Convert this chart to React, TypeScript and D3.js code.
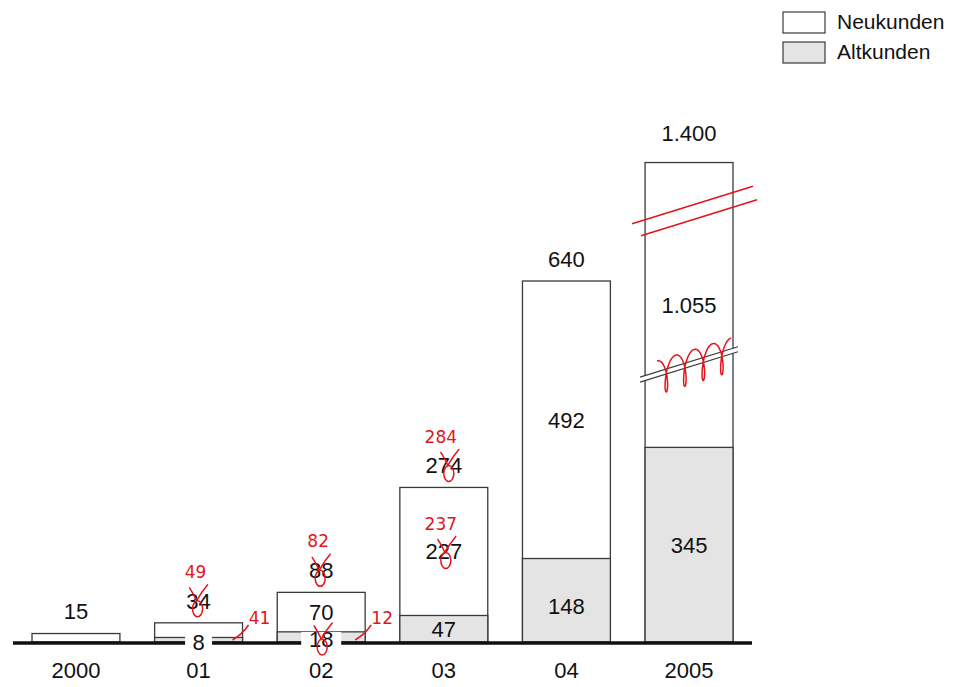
import React from "react";
import * as d3 from "d3";

// Kunden per year (stacked: Altkunden at the bottom, Neukunden on top)
const years = ["2000", "01", "02", "03", "04", "2005"];
const altkunden = [0, 8, 18, 47, 148, 345];
const neukunden = [15, 26, 70, 227, 492, 1055];
const totals = [15, 34, 88, 274, 640, 1400];
// labels printed inside segments (null = none)
const altLabels = [null, "8", "18", "47", "148", "345"];
const neuLabels = [null, null, "70", "227", "492", "1.055"];
const totalLabels = ["15", "34", "88", "274", "640", "1.400"];

// handwritten corrections
const totalFixes = [null, "49", "82", "284", null, null];
const neuFixes = [null, null, null, "237", null, null];
const altFixes = [null, "41", "12", null, null, null];

const legendItems = ["Neukunden", "Altkunden"];

const W = 954;
const H = 687;
const FONT = "'Liberation Sans', Arial, sans-serif";
const RED = "#e3151c";
const GRAY = "#e4e4e4";
const STROKE = "#3a3a3a";

const baseY = 642;
const x = d3.scaleBand<string>().domain(years).range([32, 733]).paddingInner(0.283).paddingOuter(0);
const y = d3.scaleLinear().domain([0, 640]).range([baseY, 281]);
// the last bar is drawn with an axis break above BREAK_AT
const BREAK_AT = 500;
const yBroken = d3.scaleLinear().domain([0, BREAK_AT, 1400]).range([baseY, y(BREAK_AT), y(850)]);
const scaleFor = (i: number) => (i === years.length - 1 ? yBroken : y);

function Correction({ cx, cy }: { cx: number; cy: number }) {
  // strike mark over a digit with a loop beneath
  return (
    <g fill="none" stroke={RED} strokeWidth={1.5} strokeLinecap="round">
      <path d={`M${cx - 7},${cy - 12} Q${cx - 2},${cy - 4} ${cx},${cy + 1} Q${cx + 5},${cy - 8} ${cx + 11},${cy - 15}`} />
      <ellipse cx={cx + 1} cy={cy + 9} rx={5} ry={8} />
    </g>
  );
}

export default function App() {
  const bw = x.bandwidth();
  const last = years.length - 1;
  const lx = x(years[last])!;
  const breakY = y(BREAK_AT);
  const slope = -0.31;

  // loopy scribble over the original break
  const scribble: string[] = [];
  const nLoops = 4;
  const sx0 = lx + 12;
  const span = 74;
  for (let k = 0; k <= 240; k++) {
    const t = Math.PI + (k / 240) * nLoops * 2 * Math.PI;
    const px = sx0 + (span * (t - Math.PI)) / (nLoops * 2 * Math.PI) - 5 * Math.sin(t);
    const py = breakY + 8 + 17 * Math.cos(t) + (px - (lx + bw / 2)) * slope;
    scribble.push(`${k === 0 ? "M" : "L"}${px.toFixed(1)},${py.toFixed(1)}`);
  }

  return (
    <div style={{ position: "absolute", left: 0, top: 0 }}>
      <svg width={W} height={H} style={{ display: "block", background: "#fff" }} fontFamily={FONT}>
        {/* legend */}
        {legendItems.map((name, i) => (
          <g key={name} transform={`translate(783,${12 + i * 30})`}>
            <rect width={42} height={21} fill={i === 0 ? "#fff" : GRAY} stroke={STROKE} strokeWidth={1.2} />
            <text x={54} y={17} fontSize={21} fill="#111">{name}</text>
          </g>
        ))}

        {/* bars */}
        {years.map((yr, i) => {
          const s = scaleFor(i);
          const x0 = x(yr)!;
          const yA = s(altkunden[i]);
          const yT = s(totals[i]);
          return (
            <g key={yr}>
              <rect x={x0} y={yT} width={bw} height={baseY - yT} fill="#fff" stroke={STROKE} strokeWidth={1.3} />
              {altkunden[i] > 0 && (
                <rect x={x0} y={yA} width={bw} height={baseY - yA} fill={GRAY} stroke={STROKE} strokeWidth={1.3} />
              )}
            </g>
          );
        })}

        {/* axis break on the last bar */}
        <g>
          <polygon
            points={`${lx - 5},${breakY + 2 + (-bw / 2 - 5) * slope} ${lx + bw + 5},${breakY + 2 + (bw / 2 + 5) * slope} ${lx + bw + 5},${breakY + 7 + (bw / 2 + 5) * slope} ${lx - 5},${breakY + 7 + (-bw / 2 - 5) * slope}`}
            fill="#fff"
          />
          <line x1={lx - 5} y1={breakY + 2 + (-bw / 2 - 5) * slope} x2={lx + bw + 5} y2={breakY + 2 + (bw / 2 + 5) * slope} stroke={STROKE} strokeWidth={1.1} />
          <line x1={lx - 5} y1={breakY + 7 + (-bw / 2 - 5) * slope} x2={lx + bw + 5} y2={breakY + 7 + (bw / 2 + 5) * slope} stroke={STROKE} strokeWidth={1.1} />
        </g>

        {/* baseline */}
        <line x1={13} x2={752} y1={baseY + 1} y2={baseY + 1} stroke="#111" strokeWidth={3.5} />

        {/* value labels */}
        {years.map((yr, i) => {
          const s = scaleFor(i);
          const cx = x(yr)! + bw / 2;
          const yA = s(altkunden[i]);
          const yT = s(totals[i]);
          const altLab = altLabels[i];
          const neuLab = neuLabels[i];
          const small = altkunden[i] < 30;
          const altCy = small ? (yA + baseY) / 2 + 2 : (yA + baseY) / 2 + (altkunden[i] > 100 && altkunden[i] < 200 ? 6 : 0);
          const topOff = i === last ? 29 : 22;
          return (
            <g key={yr} fontSize={22} fill="#111" textAnchor="middle">
              <text x={cx} y={yT - topOff} dy="0.36em">{totalLabels[i]}</text>
              {neuLab && <text x={cx} y={(yT + yA) / 2} dy="0.36em">{neuLab}</text>}
              {altLab && small && (
                <rect x={cx - altLab.length * 6.5 - 7} y={altCy - 7} width={altLab.length * 13 + 14} height={baseY + 5 - (altCy - 7)} fill="#fff" />
              )}
              {altLab && <text x={cx} y={altCy} dy="0.36em">{altLab}</text>}
              <text x={cx} y={670} dy="0.36em">{yr}</text>
            </g>
          );
        })}

        {/* handwritten corrections */}
        <g fill={RED} fontFamily="'DejaVu Sans', sans-serif" textAnchor="middle">
          {years.map((yr, i) => {
            const s = scaleFor(i);
            const cx = x(yr)! + bw / 2;
            const yT = s(totals[i]);
            const yA = s(altkunden[i]);
            const out: React.ReactNode[] = [];
            const tf = totalFixes[i];
            if (tf) {
              out.push(<text key="t" x={cx - 3} y={yT - 51} dy="0.36em" fontSize={17}>{tf}</text>);
              out.push(<Correction key="tc" cx={cx - 2 + (totalLabels[i].length - 2) * 6} cy={yT - 23} />);
            }
            const nf = neuFixes[i];
            if (nf) {
              const cy = (yT + yA) / 2;
              out.push(<text key="n" x={cx - 3} y={cy - 28} dy="0.36em" fontSize={17}>{nf}</text>);
              out.push(<Correction key="nc" cx={cx + 1} cy={cy} />);
            }
            const af = altFixes[i];
            if (af) {
              const ex = x(yr)! + bw;
              out.push(
                <path key="as" d={`M${ex - 10},${baseY - 2} Q${ex},${baseY - 8} ${ex + 6},${baseY - 17}`} fill="none" stroke={RED} strokeWidth={1.5} />
              );
              out.push(<text key="a" x={ex + 17} y={baseY - 24} dy="0.36em" fontSize={17}>{af}</text>);
              if (i === 2) out.push(<Correction key="ac" cx={cx} cy={baseY - 4} />);
            }
            return <g key={yr}>{out}</g>;
          })}
          {/* scribble over the original break and new break marks */}
          <path d={scribble.join("")} fill="none" stroke={RED} strokeWidth={1.5} />
          <line x1={lx - 13} y1={y(745) + 2} x2={lx + bw + 20} y2={y(745) + 2 - (bw + 33) * 0.31} stroke={RED} strokeWidth={1.6} />
          <line x1={lx - 4} y1={y(745) + 14} x2={lx + bw + 24} y2={y(745) + 14 - (bw + 28) * 0.31} stroke={RED} strokeWidth={1.6} />
        </g>
      </svg>
    </div>
  );
}
